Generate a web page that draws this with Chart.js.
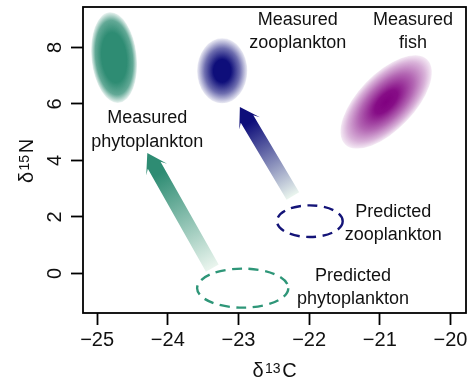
<!DOCTYPE html>
<html><head><meta charset="utf-8">
<script src="https://cdn.jsdelivr.net/npm/chart.js@4/dist/chart.umd.min.js"></script>
<style>html,body{margin:0;padding:0;background:#fff;} #wrap{width:470px;height:382px;}</style>
</head><body><div id="wrap"><canvas id="c" width="470" height="382"></canvas></div>
<script>
// ---- data ----
const xTicks = [-25, -24, -23, -22, -21, -20];
const yTicks = [0, 2, 4, 6, 8];
const xTitle = ['δ', '13', 'C'];
const yTitle = ['δ', '15', 'N'];

// measured isotope ellipses: phytoplankton, zooplankton, fish
const measuredX = [-24.76, -23.23, -20.91];
const measuredY = [7.64, 7.17, 6.07];
const measuredSpreadX = [0.32, 0.355, 0.835];
const measuredSpreadY = [1.61, 1.15, 0.99];
const measuredTilt = [-6, 0, -46];

// predicted ellipses: phytoplankton, zooplankton
const predictedX = [-22.94, -21.99];
const predictedY = [-0.52, 1.85];
const predictedSpreadX = [0.645, 0.465];
const predictedSpreadY = [0.69, 0.56];

// shift arrows: phytoplankton, zooplankton
const shiftFromX = [-23.37, -22.23];
const shiftFromY = [0.19, 2.74];
const shiftToX = [-24.29, -22.98];
const shiftToY = [4.26, 5.89];

// labels
const labelLines = [['Measured', 'phytoplankton'], ['Measured', 'zooplankton'], ['Measured', 'fish'],
                    ['Predicted', 'phytoplankton'], ['Predicted', 'zooplankton']];
const labelX = [-24.29, -22.16, -20.53, -21.38, -20.81];
const labelY = [5.31, 8.79, 8.79, -0.26, 2.0];

// ---- styles ----
const FONT = '"Liberation Sans", Arial, Helvetica, sans-serif';
const GREEN = '46,140,115', NAVY = '14,14,122', PURPLE = '128,0,128';
const measuredColor = [GREEN, NAVY, PURPLE];
const measuredStops = [
  [[0,1],[0.55,1],[0.82,0.75],[1,0.1]],
  [[0,1],[0.35,1],[0.7,0.6],[1,0.08]],
  [[0,1],[0.25,0.95],[0.6,0.6],[0.85,0.3],[1,0.08]]
];
const predictedColor = ['46,150,120', '20,20,120'];
const arrowColor = [GREEN, NAVY];

function fmt(v){ return String(v).replace('-', '\u2212'); }

function softEllipse(ctx, cx, cy, rx, ry, rot, rgb, stops){
  ctx.save();
  ctx.translate(cx, cy); ctx.rotate(rot*Math.PI/180); ctx.scale(rx, ry);
  const g = ctx.createRadialGradient(0,0,0,0,0,1);
  stops.forEach(([o,a]) => g.addColorStop(o, `rgba(${rgb},${a})`));
  ctx.fillStyle = g;
  ctx.beginPath(); ctx.arc(0,0,1,0,2*Math.PI); ctx.fill();
  ctx.restore();
}

function arrow(ctx, x0, y0, x1, y1, rgb){
  const dx = x1-x0, dy = y1-y0, L = Math.hypot(dx,dy);
  const ux = dx/L, uy = dy/L, nx = -uy, ny = ux;
  const hw = 7.3, hl = 19, hh = 12, j = 14;
  const P = (a,b) => [x1+ux*a+nx*b, y1+uy*a+ny*b];
  const pts = [P(0,0), P(-hl,hh), P(-j,hw), P(-L,hw), P(-L,-hw), P(-j,-hw), P(-hl,-hh)];
  const g = ctx.createLinearGradient(x1, y1, x0, y0);
  g.addColorStop(0, `rgb(${rgb})`);
  g.addColorStop(0.18, `rgb(${rgb})`);
  g.addColorStop(1, 'rgb(234,245,238)');
  ctx.save();
  ctx.fillStyle = g;
  ctx.beginPath();
  pts.forEach((p,i) => i ? ctx.lineTo(p[0],p[1]) : ctx.moveTo(p[0],p[1]));
  ctx.closePath(); ctx.fill();
  ctx.restore();
}

function supText(ctx, parts, big, small, rise){
  ctx.font = `${big}px ${FONT}`; const w0 = ctx.measureText(parts[0]).width;
  ctx.font = `${small}px ${FONT}`; const w1 = ctx.measureText(parts[1]).width;
  ctx.font = `${big}px ${FONT}`; const w2 = ctx.measureText(parts[2]).width;
  const gap = 1.5;
  const total = w0 + gap + w1 + gap + w2;
  let x = -total/2;
  ctx.textAlign = 'left'; ctx.textBaseline = 'alphabetic';
  ctx.font = `${big}px ${FONT}`; ctx.fillText(parts[0], x, 0); x += w0 + gap;
  ctx.font = `${small}px ${FONT}`; ctx.fillText(parts[1], x, -rise); x += w1 + gap;
  ctx.font = `${big}px ${FONT}`; ctx.fillText(parts[2], x, 0);
}

const overlay = {
  id: 'overlay',
  beforeDatasetsDraw(chart){
    const {ctx, chartArea: ca, scales: {x, y}} = chart;
    const pxX = Math.abs(x.getPixelForValue(1) - x.getPixelForValue(0));
    const pxY = Math.abs(y.getPixelForValue(1) - y.getPixelForValue(0));

    measuredX.forEach((mx, i) => {
      softEllipse(ctx, x.getPixelForValue(mx), y.getPixelForValue(measuredY[i]),
        measuredSpreadX[i]*pxX, measuredSpreadY[i]*pxY, measuredTilt[i], measuredColor[i], measuredStops[i]);
    });

    shiftFromX.forEach((sx, i) => {
      arrow(ctx, x.getPixelForValue(sx), y.getPixelForValue(shiftFromY[i]),
        x.getPixelForValue(shiftToX[i]), y.getPixelForValue(shiftToY[i]), arrowColor[i]);
    });

    predictedX.forEach((px, i) => {
      ctx.save();
      ctx.strokeStyle = `rgb(${predictedColor[i]})`;
      ctx.lineWidth = 2.4;
      ctx.setLineDash([10, 6.5]);
      ctx.beginPath();
      ctx.ellipse(x.getPixelForValue(px), y.getPixelForValue(predictedY[i]),
        predictedSpreadX[i]*pxX, predictedSpreadY[i]*pxY, 0, 0, 2*Math.PI);
      ctx.stroke();
      ctx.restore();
    });

    ctx.save();
    ctx.fillStyle = '#111';
    ctx.font = `18px ${FONT}`;
    ctx.textAlign = 'center'; ctx.textBaseline = 'alphabetic';
    labelLines.forEach((lines, i) => {
      const lx = x.getPixelForValue(labelX[i]), ly = y.getPixelForValue(labelY[i]);
      lines.forEach((t, k) => ctx.fillText(t, lx, ly + k*23.3));
    });
    ctx.restore();
  },
  afterDraw(chart){
    const {ctx, chartArea: ca} = chart;
    ctx.save();
    ctx.strokeStyle = '#000'; ctx.lineWidth = 1.8;
    ctx.strokeRect(ca.left, ca.top, ca.right-ca.left, ca.bottom-ca.top);
    ctx.fillStyle = '#111';
    // x title
    ctx.save(); ctx.translate((ca.left+ca.right)/2, 377); supText(ctx, xTitle, 20, 14, 4); ctx.restore();
    // y title
    ctx.save(); ctx.translate(33, (ca.top+ca.bottom)/2 + 1); ctx.rotate(-Math.PI/2); supText(ctx, yTitle, 20, 14, 4); ctx.restore();
    ctx.restore();
  }
};

const noPad = s => { s.paddingTop = 0; s.paddingBottom = 0; s.paddingLeft = 0; s.paddingRight = 0; };

const axisCommon = {
  type: 'linear',
  grid: { drawOnChartArea: false, drawTicks: true, tickLength: 12, tickColor: '#000', tickWidth: 1.8 },
  border: { display: false },
};

new Chart(document.getElementById('c').getContext('2d'), {
  type: 'scatter',
  data: { datasets: [{ data: measuredX.map((v,i) => ({x: v, y: measuredY[i]})), pointRadius: 0, showLine: false }] },
  options: {
    responsive: false, devicePixelRatio: 1, animation: false,
    layout: { padding: { left: 0, right: 4, top: 7, bottom: 0 } },
    plugins: { legend: { display: false }, tooltip: { enabled: false } },
    scales: {
      x: Object.assign({}, axisCommon, {
        min: -25.2, max: -19.78,
        afterBuildTicks: s => { s.ticks = xTicks.map(v => ({value: v})); },
        afterFit: s => { s.height = 69; noPad(s); },
        ticks: { color: '#111', font: { family: FONT, size: 20 }, padding: 3, maxRotation: 0, minRotation: 0, callback: v => fmt(v) }
      }),
      y: Object.assign({}, axisCommon, {
        min: -1.4, max: 9.43,
        afterBuildTicks: s => { s.ticks = yTicks.map(v => ({value: v})); },
        afterFit: s => { s.width = 83; noPad(s); },
        ticks: { color: '#111', font: { family: FONT, size: 20 }, padding: 10, minRotation: 90, maxRotation: 90, crossAlign: 'center', callback: v => fmt(v) }
      })
    }
  },
  plugins: [overlay]
});
</script>
</body></html>
